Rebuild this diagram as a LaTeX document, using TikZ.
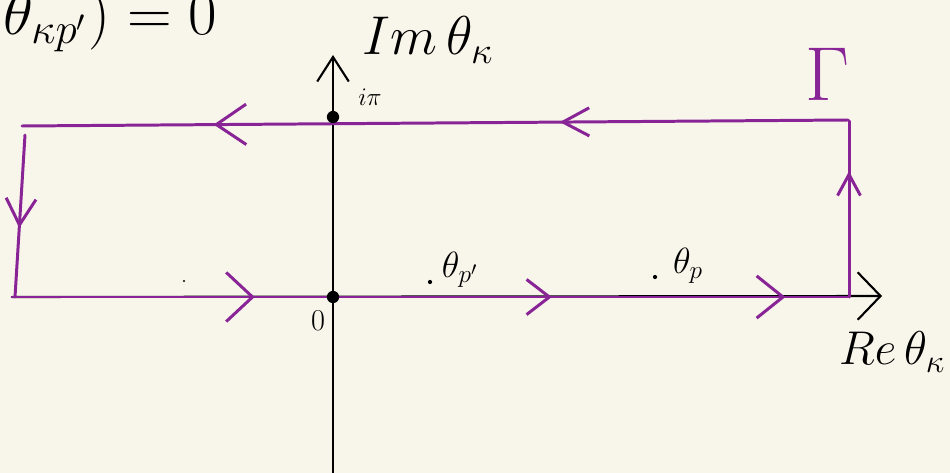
\documentclass[tikz,border=0pt]{standalone}
\usetikzlibrary{arrows.meta,decorations.markings}
\definecolor{paper}{RGB}{248,246,234}
\definecolor{contour}{RGB}{136,36,150}
\begin{document}
\begin{tikzpicture}[x=0.02cm,y=-0.02cm,
  ax/.style={line width=1.2pt, black, line cap=round},
  ct/.style={line width=1.7pt, contour, line cap=round, postaction={decorate}},
  lbl/.style={inner sep=0pt, text=black},
  big/.style={font=\fontsize{20}{24}\selectfont, scale=#1},
  pt/.style={circle, fill=black, inner sep=0pt, minimum size=#1}
]
\useasboundingbox (0,0) rectangle (950,473);
\clip (0,0) rectangle (950,473);
\fill[paper] (0,0) rectangle (950,473);

% named corners
\coordinate (BL) at (12,297);
\coordinate (BR) at (849,297);
\coordinate (TR) at (849,121);
\coordinate (TRt) at (848,120);
\coordinate (TL) at (22,126);
\coordinate (LT) at (25,135);
\coordinate (LB) at (15,297);
\coordinate (ReS) at (12,297);
\coordinate (ReE) at (882,296);
\coordinate (ImS) at (333,473);
\coordinate (ImE) at (333,55);

% axes
\draw[ax,-{Straight Barb[length=13pt,width=27pt]}] (ReS) -- (ReE);
\draw[ax,-{Straight Barb[length=14pt,width=18pt]}] (ImS) -- (ImE);

% contour
\draw[ct, decoration={markings,
   mark=at position 0.29 with {\arrow{Straight Barb[length=15pt,width=28pt]}},
   mark=at position 0.645 with {\arrow{Straight Barb[length=13pt,width=20pt]}},
   mark=at position 0.924 with {\arrow{Straight Barb[length=15pt,width=24pt]}}}]
  (BL) -- (BR);
\draw[ct, decoration={markings,
   mark=at position 0.714 with {\arrow{Straight Barb[length=12pt,width=13pt]}}}]
  (BR) -- (TR);
\draw[ct, decoration={markings,
   mark=at position 0.349 with {\arrow{Straight Barb[length=15pt,width=16pt]}},
   mark=at position 0.768 with {\arrow{Straight Barb[length=17pt,width=23pt]}}}]
  (TRt) -- (TL);
\draw[ct, decoration={markings,
   mark=at position 0.574 with {\arrow{Straight Barb[length=15pt,width=17pt]}}}]
  (LT) -- (LB);

% points
\node[pt=7pt] (ipi) at (333,117) {};
\node[pt=7pt] (orig) at (333,297) {};
\node[pt=2.4pt] (dp1) at (430,282) {};
\node[pt=2.4pt] (dp) at (655,277) {};
\node[pt=1.2pt] (dsmall) at (184,281) {};

% labels
\node[lbl, big=1.5] (imlab) at (428,40) {$Im\,\theta_\kappa$};
\node[lbl, big=1.3, anchor=east] (relab) at (946,352) {$Re\,\theta_\kappa$};
\node[lbl, font=\fontsize{15}{18}\selectfont] (ipilab) at (370,97) {$i\pi$};
\node[lbl, font=\fontsize{17}{20}\selectfont] (zlab) at (318,321) {$0$};
\node[lbl, font=\fontsize{22}{26}\selectfont] (tp1) at (460,270) {$\theta_{p'}$};
\node[lbl, font=\fontsize{22}{26}\selectfont] (tp) at (688,266) {$\theta_{p}$};
\node[lbl, text=contour, big=2.1] (gam) at (828,74) {$\Gamma$};
\node[lbl, anchor=east, big=1.7] (eq) at (218,20) {$\theta_{\kappa p'})=0$};
\end{tikzpicture}
\end{document}
